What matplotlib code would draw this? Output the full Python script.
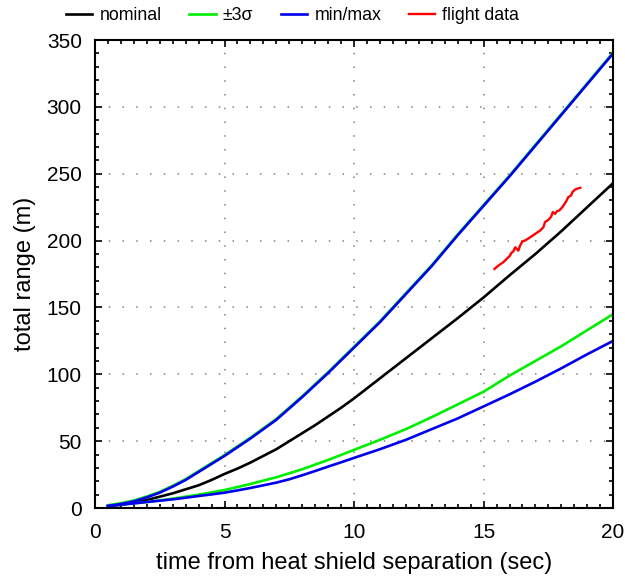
import numpy as np
import matplotlib
matplotlib.use("Agg")
import matplotlib.pyplot as plt
from matplotlib.ticker import MultipleLocator

plt.rcParams['font.family'] = ['Liberation Sans', 'DejaVu Sans']

# time grid for the simulated envelopes (sec)
t = [0.5, 1, 1.5, 2, 2.5, 3, 3.5, 4, 4.5, 5, 5.5, 6, 6.5, 7, 7.5, 8, 8.5, 9, 9.5, 10,
     11, 12, 13, 14, 15, 16, 17, 18, 19, 20]

# total range (m)
nominal = [1.5, 2.5, 4, 6, 8.5, 11, 14, 17, 21, 25.5, 29.5, 34, 39, 44, 50, 56, 62, 68.5, 75, 82,
           97, 112, 127, 142, 157.5, 174, 190, 207, 225, 243]
max_r = [1.5, 3, 5, 8, 11.5, 16, 21, 27, 33, 39, 45.5, 52, 59, 66, 74.5, 83, 92, 101, 110.5, 120,
         139, 160, 181, 204, 226, 248, 271, 294, 317, 340]
sig_hi = [v + 0.6 for v in max_r]
sig_lo = [1.5, 2.5, 3.5, 4.5, 5.7, 7, 8.5, 10, 11.7, 13.5, 15.7, 18, 20.5, 23, 26, 29, 32.5, 36, 39.7, 43.5,
          51, 59, 68, 77.5, 87, 99, 110, 121, 133, 145]
min_r = [1.5, 2.5, 3.5, 4.5, 5.5, 6.5, 7.7, 9, 10.2, 11.5, 13.2, 15, 17, 19, 21.5, 24.5, 27.7, 31, 34.2, 37.5,
         44, 51, 59, 67, 76, 85, 94.5, 104.5, 115, 125]

# flight data
t_fl = [15.42, 15.57, 15.76, 15.89, 16.02, 16.06, 16.15, 16.22, 16.28, 16.34, 16.41, 16.5,
        16.6, 16.8, 16.99, 17.18, 17.31, 17.37, 17.5, 17.61, 17.67, 17.76, 17.83, 17.92,
        18.04, 18.17, 18.27, 18.38, 18.43, 18.52, 18.61, 18.73]
r_fl = [178.8, 181.3, 183.8, 186.3, 188.8, 190.5, 192, 195, 193.8, 192.5, 196.3, 199.5,
        200, 202.5, 205, 207.5, 210, 213.8, 215.5, 218, 221.3, 220, 222, 222.5,
        225, 228.8, 232.5, 233.8, 236.3, 238, 238.8, 239.5]

fig = plt.figure(figsize=(6.25, 5.76), dpi=100)
ax = fig.add_axes([0.152, 0.118, 0.829, 0.8125])

lw = 1.9
ax.plot(t, nominal, color='black', lw=lw, label='nominal')
ax.plot(t, sig_hi, color='#00ee00', lw=lw, label='±3σ')
ax.plot(t, sig_lo, color='#00ee00', lw=lw)
ax.plot(t, max_r, color='#0000ee', lw=lw, label='min/max')
ax.plot(t, min_r, color='#0000ee', lw=lw)
ax.plot(t_fl, r_fl, color='#ff0000', lw=1.7, label='flight data')

ax.set_xlim(0, 20)
ax.set_ylim(0, 350)
ax.xaxis.set_major_locator(MultipleLocator(5))
ax.xaxis.set_minor_locator(MultipleLocator(0.5))
ax.yaxis.set_major_locator(MultipleLocator(50))
ax.yaxis.set_minor_locator(MultipleLocator(10))
ax.tick_params(which='both', direction='in', top=True, right=True, labelsize=15, width=1.2)
ax.tick_params(which='major', length=5)
ax.tick_params(which='minor', length=3)
ax.tick_params(axis='x', which='major', pad=11)
ax.tick_params(axis='y', which='major', pad=9.5)
for s in ax.spines.values():
    s.set_linewidth(1.5)
ax.grid(True, which='major', color='gray', linestyle=(0, (1, 8)), linewidth=1.1)

ax.set_xlabel('time from heat shield separation (sec)', fontsize=17, labelpad=7)
ax.set_ylabel('total range (m)', fontsize=17, labelpad=8)

fig.legend(loc='center', bbox_to_anchor=(0.468, 0.973), ncol=4, frameon=False,
           fontsize=12.75, handlelength=1.5, handletextpad=0.4, columnspacing=1.55,
           borderpad=0, borderaxespad=0)

fig.savefig('out.png', dpi=100)
